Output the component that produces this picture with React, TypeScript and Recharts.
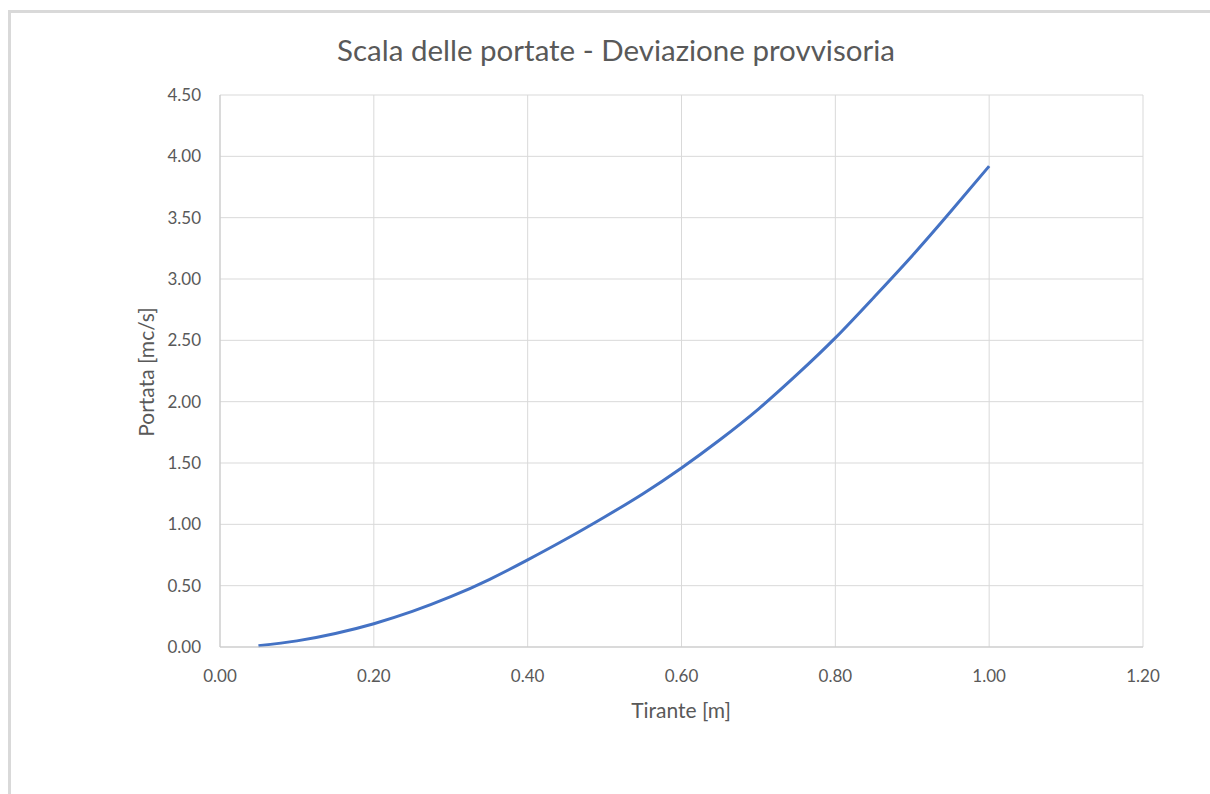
import React from 'react'
import { LineChart, Line, XAxis, YAxis, CartesianGrid } from 'recharts'

// Tirante [m] / Portata [mc/s]
const tirante = [0.05, 0.1, 0.15, 0.2, 0.25, 0.3, 0.35, 0.4, 0.45, 0.5, 0.55, 0.6, 0.65, 0.7, 0.75, 0.8, 0.85, 0.9, 0.95, 1.0]
const portata = [0.01, 0.05, 0.11, 0.19, 0.29, 0.41, 0.55, 0.71, 0.88, 1.06, 1.25, 1.46, 1.69, 1.94, 2.22, 2.52, 2.85, 3.19, 3.55, 3.92]

const xTicks = [0, 0.2, 0.4, 0.6, 0.8, 1.0, 1.2]
const yTicks = [0, 0.5, 1, 1.5, 2, 2.5, 3, 3.5, 4, 4.5]

const title = 'Scala delle portate - Deviazione provvisoria'
const xLabel = 'Tirante [m]'
const yLabel = 'Portata [mc/s]'

const data = tirante.map((h, i) => ({ tirante: h, portata: portata[i] }))

const font = 'Lato, "Liberation Sans", sans-serif'
const textColor = '#595959'

const App: React.FC = () => {
  return (
    <div style={{ position: 'absolute', left: 0, top: 0, width: 1210, height: 794, background: '#fff', fontFamily: font, overflow: 'hidden' }}>
      <div style={{ position: 'absolute', left: 8, top: 10, width: 1202, height: 784, borderTop: '3px solid #d9d9d9', borderLeft: '3px solid #d9d9d9', boxSizing: 'border-box' }} />
      <div style={{ position: 'absolute', left: 616, top: 50, transform: 'translate(-50%, -50%)', fontSize: 29.5, color: textColor, whiteSpace: 'nowrap', lineHeight: 1 }}>
        {title}
      </div>
      <div style={{ position: 'absolute', left: 145, top: 372, transform: 'translate(-50%, -50%) rotate(-90deg)', fontSize: 21, color: textColor, whiteSpace: 'nowrap', lineHeight: 1 }}>
        {yLabel}
      </div>
      <div style={{ position: 'absolute', left: 681, top: 709, transform: 'translate(-50%, -50%)', fontSize: 21, color: textColor, whiteSpace: 'nowrap', lineHeight: 1 }}>
        {xLabel}
      </div>
      <div style={{ position: 'absolute', left: 0, top: 0 }}>
        <LineChart width={1210} height={794} data={data} margin={{ top: 95, right: 67, bottom: 87, left: 0 }}>
          <CartesianGrid stroke="#d9d9d9" />
          <XAxis
            dataKey="tirante"
            type="number"
            domain={[0, 1.2]}
            ticks={xTicks}
            tickFormatter={(v: number) => v.toFixed(2)}
            tickLine={false}
            tickSize={6}
            tickMargin={17}
            height={60}
            axisLine={{ stroke: '#c8c8c8' }}
            tick={{ fill: textColor, fontSize: 17, fontFamily: font }}
          />
          <YAxis
            dataKey="portata"
            type="number"
            domain={[0, 4.5]}
            ticks={yTicks}
            tickFormatter={(v: number) => v.toFixed(2)}
            tickLine={false}
            tickSize={6}
            tickMargin={13}
            width={220}
            axisLine={{ stroke: '#c8c8c8' }}
            tick={{ fill: textColor, fontSize: 17, fontFamily: font }}
          />
          <Line type="natural" dataKey="portata" stroke="#4472c4" strokeWidth={3} dot={false} isAnimationActive={false} />
        </LineChart>
      </div>
    </div>
  )
}

export default App
